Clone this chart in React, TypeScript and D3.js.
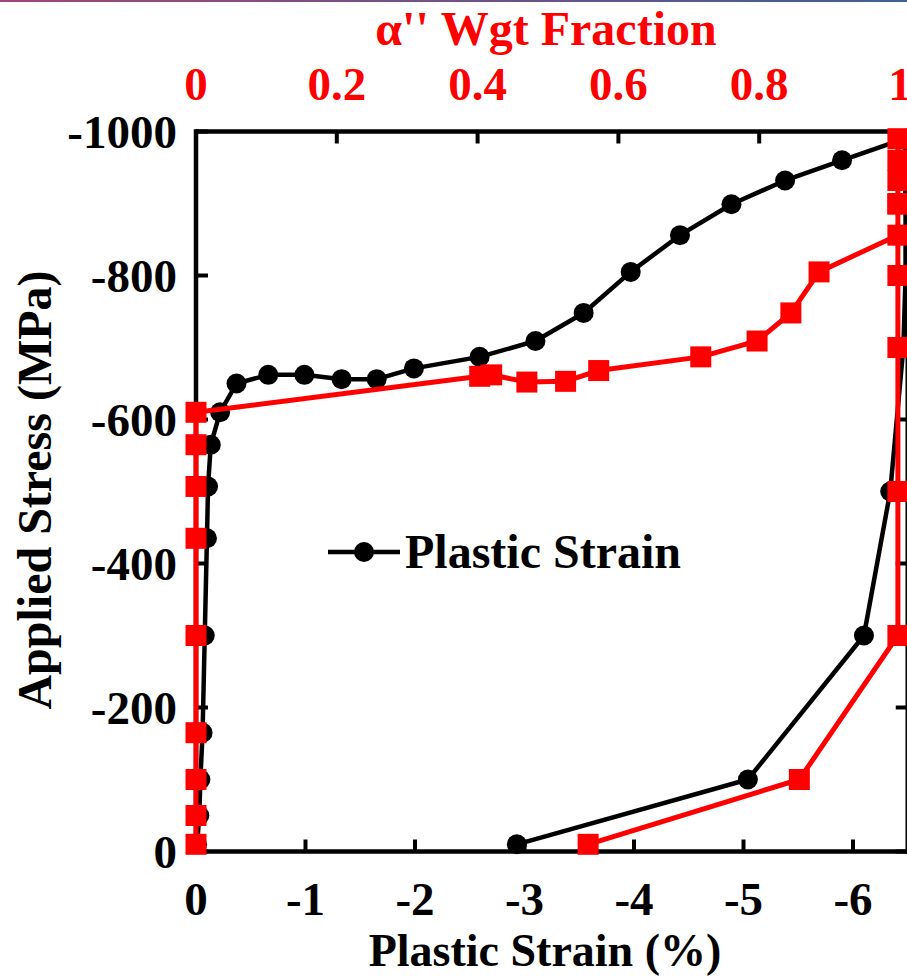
import React from "react";
import * as d3 from "d3";

// Black series: plastic strain (%) vs applied stress (MPa)
const strainValues = [-0.01, -0.03, -0.04, -0.06, -0.08, -0.10, -0.11, -0.135, -0.22, -0.37, -0.66, -0.99, -1.33, -1.65, -1.99, -2.59, -3.10, -3.54, -3.97, -4.42, -4.89, -5.38, -5.90, -6.47, -6.48, -6.48, -6.46, -6.34, -6.10, -5.04, -2.93];
const strainStress = [-10, -50, -100, -165, -300, -435, -507, -565, -610, -650, -662, -662, -656, -656, -671, -687, -709, -748, -805, -856, -899, -932, -960, -990, -900, -800, -700, -500, -300, -100, -10];

// Red series: alpha'' weight fraction vs applied stress (MPa)
const fractionValues = [0, 0, 0, 0, 0, 0, 0, 0, 0, 0.403, 0.42, 0.47, 0.525, 0.572, 0.717, 0.797, 0.845, 0.885, 0.997, 0.997, 0.997, 0.997, 0.997, 0.997, 0.997, 0.997, 0.997, 0.997, 0.857, 0.557];
const fractionStress = [-10, -50, -100, -165, -300, -435, -507, -565, -610, -660, -662, -652, -653, -668, -687, -709, -748, -805, -856, -899, -932, -960, -990, -900, -800, -700, -500, -300, -100, -10];

const strainTicks = [0, -1, -2, -3, -4, -5, -6];
const fractionTicks = [0, 0.2, 0.4, 0.6, 0.8, 1];
const stressTicks = [0, -200, -400, -600, -800, -1000];

const W = 907;
const H = 977;
const FONT = "'Liberation Serif', 'Times New Roman', serif";
const RED = "#ff0000";

export default function App() {
  const x = d3.scaleLinear().domain([0, -6.5]).range([196, 907.75]);
  const xTop = d3.scaleLinear().domain([0, 1]).range([196, 900]);
  const y = d3.scaleLinear().domain([0, -1000]).range([851.5, 131.5]);

  const left = x(0);
  const right = x(-6.5);
  const top = y(-1000);
  const bottom = y(0);

  const black = strainValues.map((s, i) => [x(s), y(strainStress[i])] as [number, number]);
  const red = fractionValues.map((f, i) => [xTop(f), y(fractionStress[i])] as [number, number]);
  const line = d3.line();
  const tick = 12;
  const sq = 21;

  return (
    <svg width={W} height={H} style={{ position: "absolute", left: 0, top: 0, background: "#fff" }}
      fontFamily={FONT} fontWeight="bold">
      <defs>
        <linearGradient id="topbar" x1="0" x2="1" y1="0" y2="0">
          <stop offset="0" stopColor="#a0467a" />
          <stop offset="1" stopColor="#3f5f93" />
        </linearGradient>
      </defs>
      <rect x={0} y={0} width={W} height={2} fill="url(#topbar)" />

      {/* axes frame */}
      <g stroke="#000" strokeWidth={4.5} fill="none">
        <line x1={left} x2={right} y1={top} y2={top} />
        <line x1={left} x2={right} y1={bottom} y2={bottom} />
        <line x1={left} x2={left} y1={top - 2.25} y2={bottom + 2.25} />
        <line x1={right} x2={right} y1={top - 2.25} y2={bottom + 2.25} />
      </g>
      <g stroke="#000" strokeWidth={4}>
        {strainTicks.map((t) => (
          <line key={"b" + t} x1={x(t)} x2={x(t)} y1={bottom} y2={bottom - tick} />
        ))}
        {fractionTicks.map((t) => (
          <line key={"t" + t} x1={xTop(t)} x2={xTop(t)} y1={top} y2={top + tick} />
        ))}
        {stressTicks.map((t) => (
          <g key={"s" + t}>
            <line x1={left} x2={left + tick} y1={y(t)} y2={y(t)} />
            <line x1={right} x2={right - tick} y1={y(t)} y2={y(t)} />
          </g>
        ))}
      </g>

      {/* tick labels */}
      <g fontSize={47} fill="#000">
        {strainTicks.map((t) => (
          <text key={"bl" + t} x={x(t)} y={915} textAnchor="middle">{t === 0 ? "0" : String(t)}</text>
        ))}
        {stressTicks.map((t) => (
          <text key={"sl" + t} x={177} y={y(t)} dy="0.35em" textAnchor="end">{t === 0 ? "0" : String(t)}</text>
        ))}
      </g>
      <g fontSize={47} fill={RED}>
        {fractionTicks.map((t) => (
          <text key={"tl" + t} x={xTop(t)} y={100} textAnchor="middle">{String(t)}</text>
        ))}
      </g>

      {/* axis titles */}
      <text x={546} y={45} fontSize={48} fill={RED} textAnchor="middle">α'' Wgt Fraction</text>
      <text x={545} y={966} fontSize={46} fill="#000" textAnchor="middle">Plastic Strain (%)</text>
      <text transform="translate(51,490) rotate(-90)" fontSize={48} fill="#000" textAnchor="middle">Applied Stress (MPa)</text>

      {/* black series */}
      <path d={line(black) || ""} fill="none" stroke="#000" strokeWidth={4.5} strokeLinejoin="round" />
      {black.map((p, i) => (
        <circle key={"c" + i} cx={p[0]} cy={p[1]} r={10} fill="#000" />
      ))}

      {/* red series */}
      <path d={line(red) || ""} fill="none" stroke={RED} strokeWidth={5} strokeLinejoin="miter" />
      {red.map((p, i) => (
        <rect key={"r" + i} x={p[0] - sq / 2} y={p[1] - sq / 2} width={sq} height={sq} fill={RED} />
      ))}

      {/* legend */}
      <line x1={328} x2={400} y1={552} y2={552} stroke="#000" strokeWidth={4.5} />
      <circle cx={364} cy={552} r={10} fill="#000" />
      <text x={405} y={568} fontSize={48} fill="#000">Plastic Strain</text>
    </svg>
  );
}
